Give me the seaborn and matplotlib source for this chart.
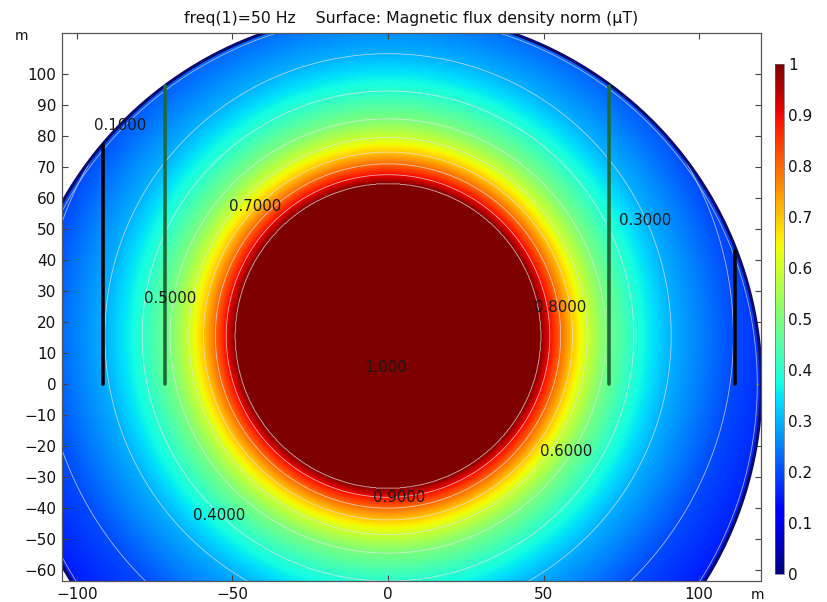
import numpy as np
import matplotlib
matplotlib.use("Agg")
import matplotlib.pyplot as plt
import seaborn as sns

# Field: contour radii (m) measured from the field centre, and their values (uT)
field_radius = [49.0, 52.0, 55.5, 59.3, 64.0, 70.0, 79.0, 91.0, 111.0, 130.0]
field_value = [1.0, 0.9, 0.8, 0.7, 0.6, 0.5, 0.4, 0.3, 0.2, 0.145]
field_centre = (0.0, 15.5)
domain_radius = 120.0

contour_levels = [0.1, 0.2, 0.3, 0.4, 0.5, 0.6, 0.7, 0.8, 0.9, 1.0]

# Contour labels as shown in the picture
label_text = ["0.1000", "0.5000", "0.7000", "0.3000", "0.8000",
              "1.000", "0.6000", "0.9000", "0.4000"]
label_x = [-86.2, -70.1, -42.8, 82.6, 55.3, -0.6, 57.2, 3.5, -54.3]
label_y = [83.5, 27.7, 57.1, 52.9, 24.8, 5.2, -21.9, -36.5, -42.3]

# Vertical conductors (x position, top end)
cable_x = [-91.6, -71.6, 71.1, 111.6]
cable_top = [77.0, 96.0, 96.0, 43.0]
cable_kind = ["black", "green", "green", "black"]

x_ticks = [-100, -50, 0, 50, 100]
y_ticks = list(range(-60, 101, 10))
cbar_ticks = [0, 0.1, 0.2, 0.3, 0.4, 0.5, 0.6, 0.7, 0.8, 0.9, 1.0]
cbar_labels = ["0", "0.1", "0.2", "0.3", "0.4", "0.5", "0.6", "0.7", "0.8", "0.9", "1"]

sns.set_theme(style="ticks")
plt.rcParams["font.family"] = ["DejaVu Sans"]

xlim = (-104.8, 119.9)
ylim = (-63.5, 113.2)

# grid
xs = np.linspace(xlim[0], xlim[1], 1100)
ys = np.linspace(ylim[0], ylim[1], 880)
X, Y = np.meshgrid(xs, ys)
R = np.hypot(X - field_centre[0], Y - field_centre[1])
Z = np.interp(R, field_radius, field_value, left=1.5, right=field_value[-1])
outside = np.hypot(X, Y) > domain_radius
Z = np.ma.masked_where(outside, Z)

fig = plt.figure(figsize=(8.27, 6.02), dpi=100)
ax = fig.add_axes([62 / 827, 1 - 581 / 602, 699 / 827, 548 / 602])
cax = fig.add_axes([775 / 827, 1 - 574 / 602, 9 / 827, 510 / 602])

cmap = plt.get_cmap("jet").copy()
cmap.set_bad("white")
im = ax.imshow(Z, extent=(xlim[0], xlim[1], ylim[0], ylim[1]), origin="lower",
               cmap=cmap, vmin=0, vmax=1, aspect="auto", interpolation="bilinear")
ax.contour(X, Y, Z, levels=contour_levels, colors="#e4e4e4", linewidths=0.6, alpha=0.75)

# domain boundary
theta = np.linspace(0, 2 * np.pi, 721)
ax.plot(domain_radius * np.cos(theta), domain_radius * np.sin(theta),
        color="#0a0a6e", lw=2.2)
ax.plot((domain_radius - 1.3) * np.cos(theta), (domain_radius - 1.3) * np.sin(theta),
        color="#d0d0d0", lw=0.6, alpha=0.8)

# conductors
colors = {"black": "#050505", "green": "#1e6b3a"}
for cx, top, kind in zip(cable_x, cable_top, cable_kind):
    ax.plot([cx, cx], [0, top], color=colors[kind], lw=2.6, solid_capstyle="round")

for t, lx, ly in zip(label_text, label_x, label_y):
    ax.text(lx, ly, t, ha="center", va="center", fontsize=10.8, color="#1a1a1a")

ax.set_xlim(xlim)
ax.set_ylim(ylim)
ax.set_xticks(x_ticks)
ax.set_yticks(y_ticks)
ax.tick_params(direction="in", length=4, width=0.8, top=True, right=True,
               labelsize=11, colors="#444444", labelcolor="#111111", pad=4)
for s in ax.spines.values():
    s.set_color("#555555")
    s.set_linewidth(0.9)

ax.set_title("freq(1)=50 Hz    Surface: Magnetic flux density norm (\u00b5T)",
             fontsize=11.3, color="#111111", pad=7)
fig.text(15 / 827, 1 - 36 / 602, "m", fontsize=10, ha="left", va="center", color="#111111")
fig.text(757 / 827, 1 - 595 / 602, "m", fontsize=10, ha="center", va="center", color="#111111")

cb = fig.colorbar(im, cax=cax, ticks=cbar_ticks)
cb.ax.set_yticklabels(cbar_labels)
cb.ax.tick_params(length=0, labelsize=11, pad=3, labelcolor="#111111")
cb.outline.set_linewidth(0.5)
cb.outline.set_edgecolor("#666666")

fig.savefig("out.png", dpi=100)
